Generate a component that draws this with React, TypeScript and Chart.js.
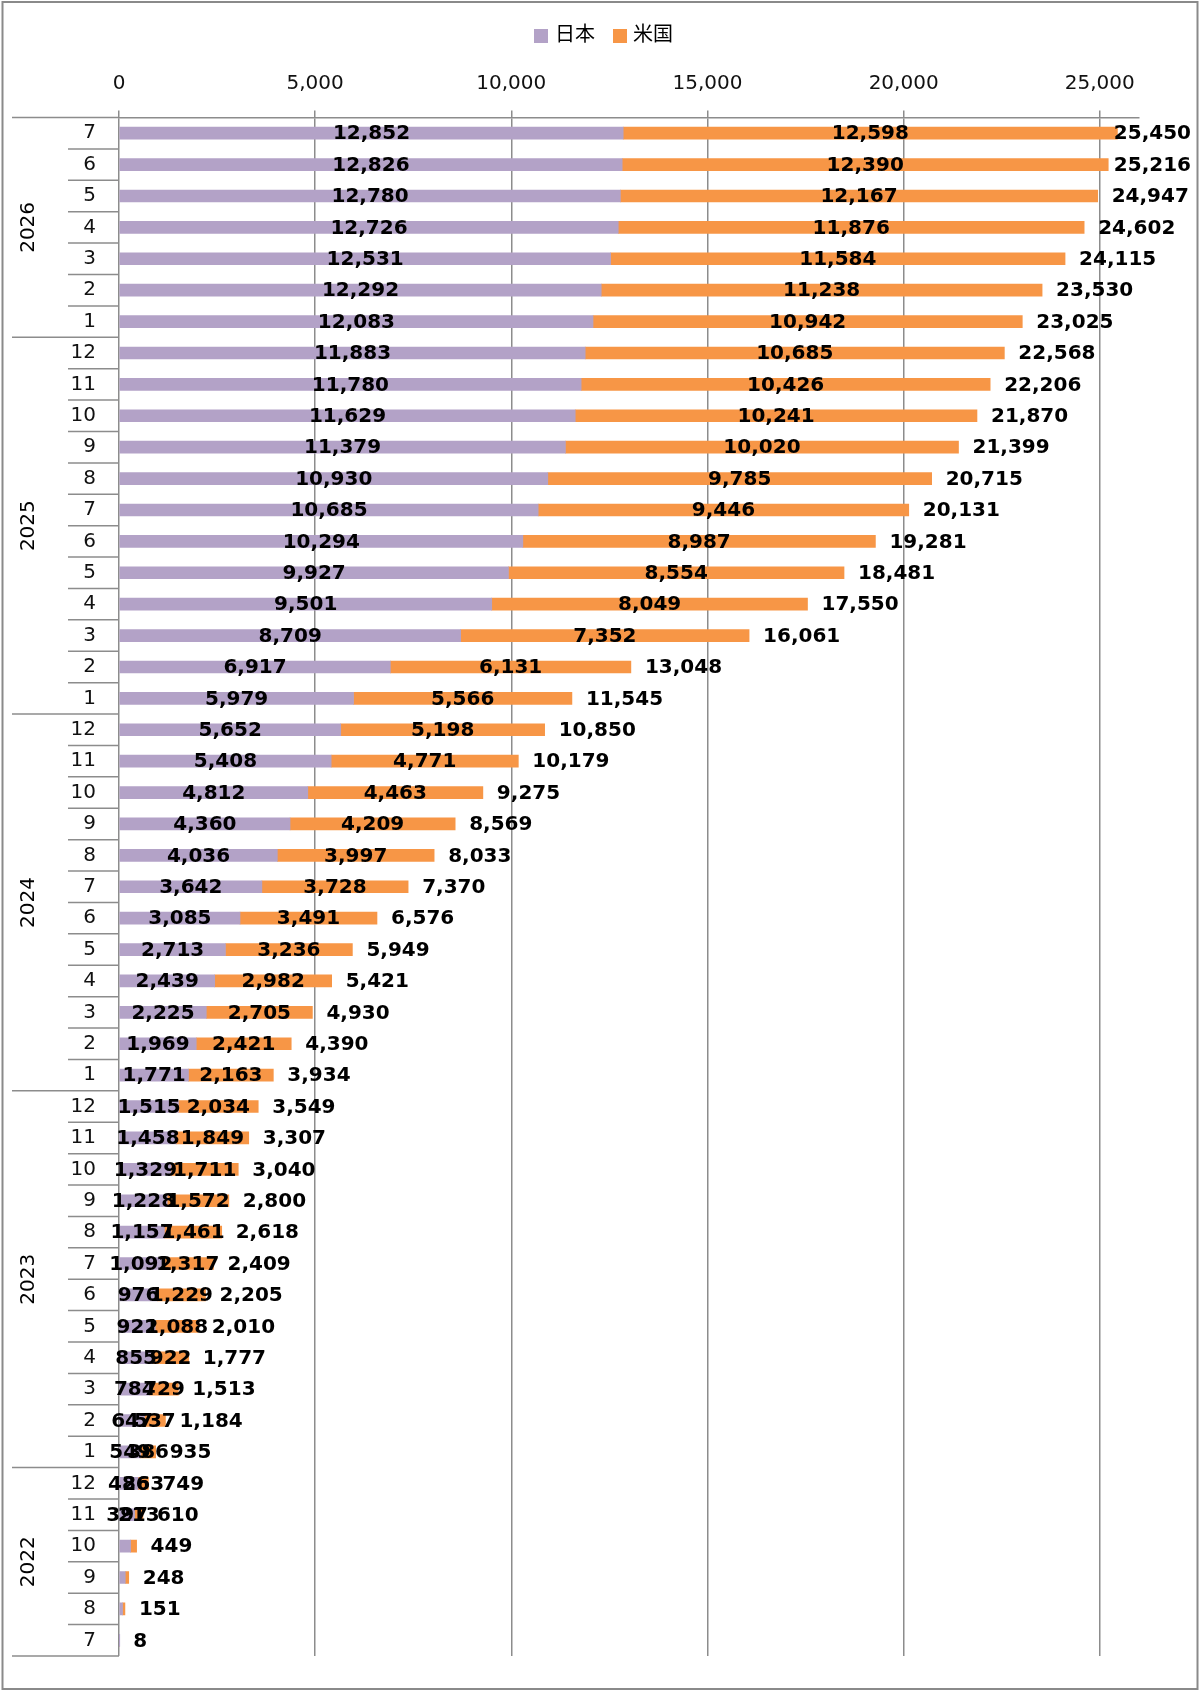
import React, { useEffect, useRef } from 'react';
import { Chart, registerables } from 'chart.js';

Chart.register(...registerables);

// Chronological order: 2022-7 ... 2026-7
const monthLabels = [
  '7', '8', '9', '10', '11', '12',
  '1', '2', '3', '4', '5', '6', '7', '8', '9', '10', '11', '12',
  '1', '2', '3', '4', '5', '6', '7', '8', '9', '10', '11', '12',
  '1', '2', '3', '4', '5', '6', '7', '8', '9', '10', '11', '12',
  '1', '2', '3', '4', '5', '6', '7',
];
const yearLabels = ['2022', '2023', '2024', '2025', '2026'];
const yearSizes = [6, 12, 12, 12, 7];

const japan = [
  5, 90, 160, 296, 397, 486,
  549, 647, 784, 855, 922, 976, 1092, 1157, 1228, 1329, 1458, 1515,
  1771, 1969, 2225, 2439, 2713, 3085, 3642, 4036, 4360, 4812, 5408, 5652,
  5979, 6917, 8709, 9501, 9927, 10294, 10685, 10930, 11379, 11629, 11780, 11883,
  12083, 12292, 12531, 12726, 12780, 12826, 12852,
];
const usa = [
  3, 61, 88, 153, 213, 263,
  386, 537, 729, 922, 1088, 1229, 1317, 1461, 1572, 1711, 1849, 2034,
  2163, 2421, 2705, 2982, 3236, 3491, 3728, 3997, 4209, 4463, 4771, 5198,
  5566, 6131, 7352, 8049, 8554, 8987, 9446, 9785, 10020, 10241, 10426, 10685,
  10942, 11238, 11584, 11876, 12167, 12390, 12598,
];
const seriesNames = ['日本', '米国'];
const seriesColors = ['#B3A2C7', '#F79646'];
// rows (chronological index) from which segment labels are shown
const firstLabelledIndex = 4;
const axisMax = 26000;
const xTickValues = [0, 5000, 10000, 15000, 20000, 25000];

const FONT = "'DejaVu Sans', 'Noto Sans CJK JP', sans-serif";
const LINE = '#8c8c8c';

export default function App() {
  const ref = useRef<HTMLCanvasElement>(null);

  useEffect(() => {
    const canvas = ref.current;
    if (!canvas) return;
    const n = monthLabels.length;
    const labels = monthLabels.slice().reverse();
    const jp = japan.slice().reverse();
    const us = usa.slice().reverse();
    const totals = jp.map((v, i) => v + us[i]);
    const showSeg = jp.map((_, i) => n - 1 - i >= firstLabelledIndex);
    const groupsTopDown = yearLabels.map((y, i) => ({ y, size: yearSizes[i] })).reverse();

    const fmt = (v: number) => v.toLocaleString('en-US');

    const overlay = {
      id: 'overlay',
      afterDatasetsDraw(chart: any) {
        const ctx = chart.ctx;
        ctx.save();
        ctx.font = `bold 20px ${FONT}`;
        ctx.fillStyle = '#000';
        ctx.textBaseline = 'middle';
        ctx.textAlign = 'center';
        [0, 1].forEach((d) => {
          const meta = chart.getDatasetMeta(d);
          const vals = d === 0 ? jp : us;
          meta.data.forEach((el: any, i: number) => {
            if (!showSeg[i]) return;
            const cx = (el.x + el.base) / 2;
            ctx.fillText(fmt(vals[i]), cx, el.y + 1);
          });
        });
        ctx.textAlign = 'left';
        const meta1 = chart.getDatasetMeta(1);
        meta1.data.forEach((el: any, i: number) => {
          const t = fmt(totals[i]);
          const w = ctx.measureText(t).width;
          let left = el.x + 14;
          if (left + w > 1191) left = 1191 - w;
          ctx.fillText(t, left, el.y + 1);
        });
        ctx.restore();
      },
      afterDraw(chart: any) {
        const ctx = chart.ctx;
        const area = chart.chartArea;
        const ys = chart.scales.y;
        ctx.save();
        // outer border
        ctx.strokeStyle = '#8a8a8a';
        ctx.lineWidth = 2;
        ctx.strokeRect(2.5, 2, 1195, 1687);

        // separators in category area
        ctx.strokeStyle = LINE;
        ctx.lineWidth = 1.5;
        const boundary = (k: number) => ys.getPixelForValue(k - 0.5);
        const yearBounds: number[] = [0];
        groupsTopDown.forEach((g) => yearBounds.push(yearBounds[yearBounds.length - 1] + g.size));
        for (let k = 0; k <= n; k++) {
          const py = boundary(k);
          const isYear = yearBounds.includes(k);
          ctx.beginPath();
          ctx.moveTo(isYear ? 12 : 68, py);
          ctx.lineTo(area.left, py);
          ctx.stroke();
        }
        // year labels
        ctx.fillStyle = '#000';
        ctx.font = `20px ${FONT}`;
        ctx.textAlign = 'center';
        ctx.textBaseline = 'middle';
        groupsTopDown.forEach((g, gi) => {
          const y0 = boundary(yearBounds[gi]);
          const y1 = boundary(yearBounds[gi + 1]);
          ctx.save();
          ctx.translate(29, (y0 + y1) / 2);
          ctx.rotate(-Math.PI / 2);
          ctx.fillText(g.y, 0, 0);
          ctx.restore();
        });

        // legend
        ctx.font = `20px ${FONT}`;
        ctx.textAlign = 'left';
        ctx.textBaseline = 'middle';
        const legendY = 36;
        const items = [
          { x: 534, tx: 555 },
          { x: 613, tx: 633 },
        ];
        items.forEach((it, i) => {
          ctx.fillStyle = seriesColors[i];
          ctx.fillRect(it.x, legendY - 7, 14, 14);
          ctx.fillStyle = '#000';
          ctx.fillText(seriesNames[i], it.tx, legendY);
        });
        ctx.restore();
      },
    };

    const chart = new Chart(canvas, {
      type: 'bar',
      data: {
        labels,
        datasets: [
          { label: seriesNames[0], data: jp, backgroundColor: seriesColors[0], stack: 's', barThickness: 12, borderWidth: 0 },
          { label: seriesNames[1], data: us, backgroundColor: seriesColors[1], stack: 's', barThickness: 12, borderWidth: 0 },
        ],
      },
      options: {
        indexAxis: 'y',
        animation: false,
        responsive: true,
        maintainAspectRatio: false,
        layout: { padding: { left: 0, right: 61, top: 0, bottom: 28 } },
        plugins: {
          legend: { display: false },
          tooltip: { enabled: false },
        },
        scales: {
          x: {
            position: 'top',
            stacked: true,
            min: 0,
            max: axisMax,
            afterFit: (s: any) => { s.height = 117.5; },
            afterBuildTicks: (s: any) => { s.ticks = xTickValues.map((v) => ({ value: v })); },
            ticks: {
              padding: 15,
              color: '#111',
              font: { family: FONT, size: 20 },
              callback: (v: any) => Number(v).toLocaleString('en-US'),
            },
            grid: { color: LINE, lineWidth: 1.5, tickLength: 7, drawTicks: true },
            border: { display: true, color: LINE, width: 1.5 },
          },
          y: {
            stacked: true,
            afterFit: (s: any) => { s.width = 119; },
            ticks: {
              padding: 23,
              color: '#111',
              font: { family: FONT, size: 20 },
              autoSkip: false,
            },
            grid: { display: false, drawTicks: false },
            border: { display: false },
          },
        },
      },
      plugins: [overlay],
    } as any);
    return () => chart.destroy();
  }, []);

  return (
    <div style={{ position: 'absolute', left: 0, top: 0, width: 1200, height: 1691, background: '#fff' }}>
      <canvas ref={ref} />
    </div>
  );
}
